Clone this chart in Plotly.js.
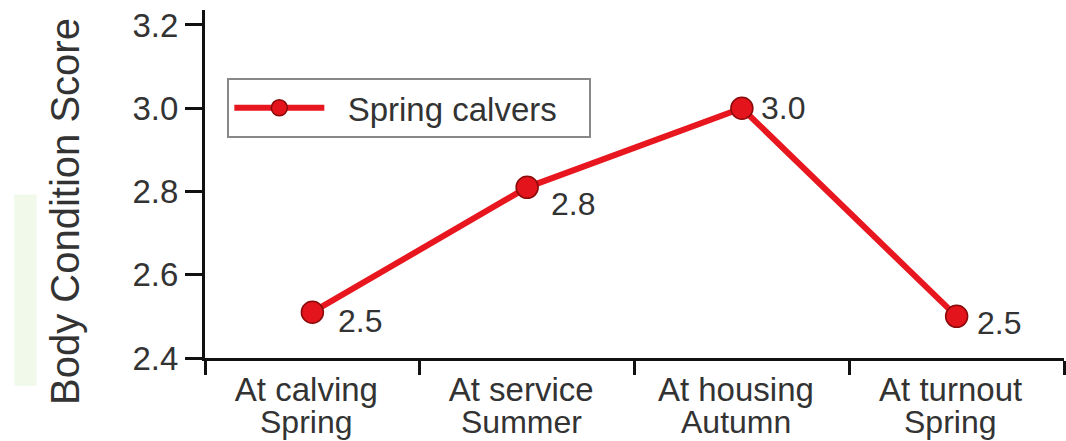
<!DOCTYPE html>
<html>
<head>
<meta charset="utf-8">
<script src="https://cdn.plot.ly/plotly-3.0.1.min.js"></script>
<style>html,body{margin:0;padding:0;background:#fff;}#chart{width:1066px;height:441px;}</style>
</head>
<body>
<div id="chart"></div>
<script>
const stages = ["At calving", "At service", "At housing", "At turnout"];
const seasons = ["Spring", "Summer", "Autumn", "Spring"];
const bcs = [2.51, 2.81, 3.0, 2.5];
const seriesName = "Spring calvers";
const yTicks = [2.4, 2.6, 2.8, 3.0, 3.2];
const yTitle = "Body Condition Score";

// label offsets (px) from each point
const labelDx = [24, 22, 17, 18];
const labelDy = [-9, -17, 0, -7];

const FONT = "Liberation Sans, Arial, sans-serif";
const TXT = "#333";

const trace = {
  x: stages,
  y: bcs,
  type: "scatter",
  mode: "lines+markers",
  name: "\u00a0\u00a0" + seriesName + "\u00a0\u00a0\u00a0",
  line: {color: "#e8161e", width: 6},
  marker: {size: 22, color: "#e3141c", line: {color: "#8a0a0a", width: 1.5}},
  cliponaxis: false
};

const valueAnnotations = stages.map((s, i) => ({
  x: s, y: bcs[i], xref: "x", yref: "y",
  xanchor: "left", yanchor: "middle",
  xshift: labelDx[i], yshift: labelDy[i],
  text: bcs[i].toFixed(1), showarrow: false,
  font: {family: FONT, size: 32, color: TXT}
}));

const seasonAnnotations = stages.map((s, i) => ({
  x: s, y: 0, xref: "x", yref: "paper", yanchor: "top", yshift: -44, xshift: -6,
  text: seasons[i], showarrow: false,
  font: {family: FONT, size: 32, color: TXT}
}));

const titleAnnotation = {
  x: -0.1628, y: 0.42, xref: "paper", yref: "paper",
  xanchor: "center", yanchor: "middle", textangle: -90,
  text: yTitle, showarrow: false,
  font: {family: FONT, size: 40, color: TXT}
};

const layout = {
  width: 1066, height: 441,
  margin: {l: 205, r: 2, t: 10, b: 83},
  paper_bgcolor: "#fff", plot_bgcolor: "#fff",
  showlegend: true,
  legend: {
    x: 0.026, y: 0.805, xanchor: "left", yanchor: "top",
    bgcolor: "#fff", bordercolor: "#888", borderwidth: 2,
    font: {family: FONT, size: 33, color: TXT},
    itemwidth: 90
  },
  xaxis: {
    type: "category",
    tickson: "boundaries",
    showline: true, linecolor: "#111", linewidth: 3,
    ticks: "outside", ticklen: 14, tickwidth: 3, tickcolor: "#111",
    showgrid: false, zeroline: false,
    tickfont: {family: FONT, size: 33, color: TXT},
    ticklabelshift: -6,
    range: [-0.5, 3.5]
  },
  yaxis: {
    range: [2.4, 3.236],
    tickvals: yTicks,
    ticktext: yTicks.map(v => v.toFixed(1)),
    showline: true, linecolor: "#111", linewidth: 3,
    ticks: "outside", ticklen: 17, tickwidth: 3, tickcolor: "#111",
    showgrid: false, zeroline: false,
    tickfont: {family: FONT, size: 33, color: TXT}
  },
  annotations: [titleAnnotation, ...valueAnnotations, ...seasonAnnotations],
  shapes: [
    {type: "rect", xref: "paper", yref: "paper", x0: -0.222, x1: -0.196, y0: -0.08, y1: 0.47, fillcolor: "#f0f9ea", line: {width: 0}, layer: "below"}
  ]
};

Plotly.newPlot("chart", [trace], layout, {displayModeBar: false, staticPlot: true});
</script>
</body>
</html>
